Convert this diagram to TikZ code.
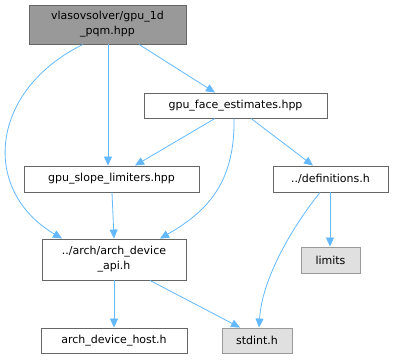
\documentclass[tikz,border=0pt]{standalone}
\usepackage{fontspec}
\setmainfont{DejaVu Sans}
\usetikzlibrary{arrows.meta}
\definecolor{kenar}{HTML}{63B8FF}
\definecolor{anaGri}{HTML}{999999}
\definecolor{koyuGri}{HTML}{666666}
\definecolor{acikGri}{HTML}{E0E0E0}
\tikzset{
  dosya/.style={draw=koyuGri,fill=white,font=\fontsize{11}{15}\selectfont,inner sep=0pt,align=center,line width=0.9pt},
  sistem/.style={dosya,draw=anaGri,fill=acikGri},
  ok/.style={draw=kenar,-{Triangle[length=9pt,width=8pt]},line width=0.8pt}
}
\begin{document}
\begin{tikzpicture}[x=1pt,y=-1pt]
\useasboundingbox (0,0) rectangle (393,359);
% dosyalar
\node[dosya,fill=anaGri,minimum width=157pt,minimum height=39pt] (pqm) at (107.5,24.5) {vlasovsolver/gpu\_1d\\\_pqm.hpp};
\node[dosya,minimum width=183pt,minimum height=25pt] (face) at (235.5,105.5) {gpu\_face\_estimates.hpp};
\node[dosya,minimum width=175pt,minimum height=26pt] (slope) at (111.5,179) {gpu\_slope\_limiters.hpp};
\node[dosya,minimum width=115pt,minimum height=26pt] (defs) at (330.5,179) {../definitions.h};
\node[dosya,minimum width=144pt,minimum height=41pt] (api) at (114,259.5) {../arch/arch\_device\\\_api.h};
\node[sistem,minimum width=59pt,minimum height=26pt] (limits) at (330.5,260) {limits};
\node[dosya,minimum width=146pt,minimum height=25pt] (host) at (114,340.5) {arch\_device\_host.h};
\node[sistem,minimum width=70pt,minimum height=25pt] (stdint) at (257,340.5) {stdint.h};
% baglantilar
\draw[ok] (pqm.south -| 139,0) -- (face.north -| 215,0);
\draw[ok] (pqm.south -| 108,0) -- (slope.north -| 108,0);
\draw[ok] (pqm.south -| 83,0) .. controls (-10,90) and (-20,190) .. (api.north -| 62,0);
\draw[ok] (face.south -| 215,0) -- (slope.north -| 135,0);
\draw[ok] (face.south -| 234,0) .. controls (235,180) and (210,210) .. (api.north -| 160,0);
\draw[ok] (face.south -| 251,0) -- (defs.north -| 313,0);
\draw[ok] (slope.south -| 112,0) -- (api.north -| 114,0);
\draw[ok] (defs.south -| 330,0) -- (limits.north -| 330,0);
\draw[ok] (defs.south -| 320,0) .. controls (290,230) and (262,280) .. (stdint.north -| 259,0);
\draw[ok] (api.south -| 114,0) -- (host.north -| 114,0);
\draw[ok] (api.south -| 150,0) -- (stdint.north -| 240,0);
\end{tikzpicture}
\end{document}
